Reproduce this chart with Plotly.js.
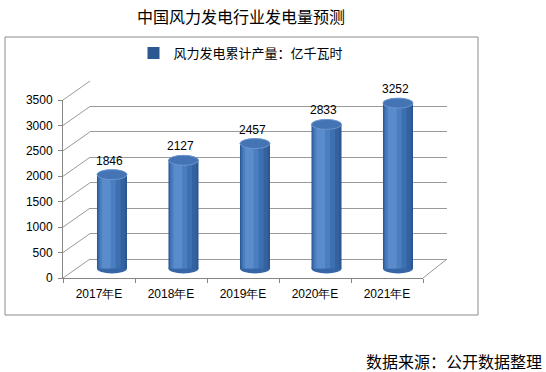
<!DOCTYPE html>
<html>
<head>
<meta charset="utf-8">
<script src="https://cdn.plot.ly/plotly-3.0.1.min.js"></script>
<style>html,body{margin:0;padding:0;background:#fff;}#chart{width:546px;height:372px;}</style>
</head>
<body>
<div id="chart"></div>
<script>
// ---- data ----
const categories = ['2017年E', '2018年E', '2019年E', '2020年E', '2021年E'];
const values = [1846, 2127, 2457, 2833, 3252];
const yTicks = [0, 500, 1000, 1500, 2000, 2500, 3000, 3500];
const seriesName = '风力发电累计产量：亿千瓦时';
const titleText = '中国风力发电行业发电量预测';
const sourceText = '数据来源：公开数据整理';

// ---- geometry helpers (pixel -> paper) ----
const W = 546, H = 372;
const px = x => x / W;
const py = y => 1 - y / H;
const k = 178 / 3500;          // pixels per unit
const cjk = '"Noto Sans CJK SC", "Liberation Sans", sans-serif';
const num = '"Liberation Sans", Arial, sans-serif';
const gridCol = '#9a9a9a';
const axCol = '#868686';

// ---- traces ----
const ghost = (xa, ya) => ({
  type: 'scatter', x: categories, y: values, xaxis: xa, yaxis: ya,
  mode: 'markers', marker: {opacity: 0}, hoverinfo: 'skip', showlegend: false
});

const layers = [
  {w: 0.42, off: -0.21, c: '#2C5891'},
  {w: 0.38, off: -0.20, c: '#3462A0'},
  {w: 0.31, off: -0.19, c: '#3D70B1'},
  {w: 0.22, off: -0.17, c: '#4A7EC0'},
  {w: 0.12, off: -0.14, c: '#5A8CCB'}
];
const barTraces = layers.map((L, i) => ({
  type: 'bar', x: categories, y: values, xaxis: 'x3', yaxis: 'y3',
  width: L.w, offset: L.off, marker: {color: L.c, line: {width: 0}},
  name: seriesName, showlegend: i === 0, hoverinfo: 'skip'
}));

const data = [ghost('x', 'y'), ghost('x2', 'y2')].concat(barTraces);

// ---- shapes ----
const shapes = [];
shapes.push({type: 'rect', xref: 'paper', yref: 'paper', x0: px(5), x1: px(478), y0: py(315), y1: py(37),
  line: {color: '#8c8c8c', width: 1}, layer: 'below'});
yTicks.forEach(t => {
  shapes.push({type: 'line', xref: 'paper', yref: 'paper', x0: px(63), y0: py(278 - t * k), x1: px(90), y1: py(259 - t * k),
    line: {color: gridCol, width: 1}, layer: 'below'});
});
shapes.push({type: 'line', xref: 'paper', yref: 'paper', x0: px(423), y0: py(278), x1: px(447), y1: py(259),
  line: {color: gridCol, width: 1}, layer: 'below'});
const h = 5 / k;
values.forEach((v, i) => {
  shapes.push({type: 'circle', xref: 'x3', yref: 'y3', x0: i - 0.21, x1: i + 0.21, y0: -h, y1: h,
    fillcolor: '#3766A6', line: {width: 0}, layer: 'below'});
  shapes.push({type: 'circle', xref: 'x3', yref: 'y3', x0: i - 0.21, x1: i + 0.21, y0: v - h, y1: v + h,
    fillcolor: '#4574B4', line: {color: '#6A96CF', width: 1}, layer: 'above'});
});

// ---- annotations ----
const annotations = values.map((v, i) => ({
  xref: 'x3', yref: 'y3', x: i, y: v, text: String(v), showarrow: false,
  yanchor: 'middle', yshift: 9 + h * k, xshift: -3, font: {family: num, size: 12, color: '#000'}
}));
annotations.push({xref: 'paper', yref: 'paper', x: px(544), y: py(361), xanchor: 'right', yanchor: 'middle',
  text: sourceText, showarrow: false, font: {family: cjk, size: 16, color: '#000'}});

const layout = {
  width: W, height: H, margin: {l: 0, r: 0, t: 0, b: 0},
  paper_bgcolor: '#fff', plot_bgcolor: 'rgba(0,0,0,0)',
  title: {text: titleText, x: px(241), xanchor: 'center', y: py(17), yanchor: 'middle',
    font: {family: cjk, size: 16, color: '#000'}},
  showlegend: true,
  legend: {x: px(241), xanchor: 'center', y: py(53), yanchor: 'middle', orientation: 'h',
    bgcolor: 'rgba(0,0,0,0)', font: {family: cjk, size: 13, color: '#000'}},
  barmode: 'overlay',
  hovermode: false,
  // back wall
  xaxis: {domain: [px(90), px(447)], anchor: 'y', type: 'category', range: [-0.5, 4.5],
    showgrid: false, zeroline: false, showline: false, showticklabels: false, ticks: ''},
  yaxis: {domain: [py(259), py(81)], anchor: 'x', range: [0, 3500], tickvals: yTicks,
    showgrid: true, gridcolor: gridCol, gridwidth: 1, zeroline: true, zerolinecolor: gridCol, zerolinewidth: 1,
    showline: false, showticklabels: false, ticks: ''},
  // front axes
  xaxis2: {domain: [px(63), px(423)], anchor: 'y2', type: 'category', range: [-0.5, 4.5],
    showgrid: false, zeroline: false, showline: true, linecolor: axCol, linewidth: 1,
    ticks: 'outside', tickson: 'boundaries', ticklen: 4, tickcolor: axCol, ticklabelstandoff: 5,
    tickfont: {family: num, size: 12, color: '#000'}},
  yaxis2: {domain: [py(278), py(100)], anchor: 'x2', range: [0, 3500], tickvals: yTicks,
    showgrid: false, zeroline: false, showline: true, linecolor: axCol, linewidth: 1,
    ticks: 'outside', ticklen: 4, tickcolor: axCol, ticklabelstandoff: 3,
    tickfont: {family: num, size: 12, color: '#000'}},
  // bars (middle depth)
  xaxis3: {domain: [px(76.25), px(433.75)], anchor: 'y3', type: 'category', range: [-0.5, 4.5],
    showgrid: false, zeroline: false, showline: false, showticklabels: false, ticks: ''},
  yaxis3: {domain: [py(268.5 + 200 * k), py(268.5 - 3500 * k)], anchor: 'x3', range: [-200, 3500],
    showgrid: false, zeroline: false, showline: false, showticklabels: false, ticks: ''},
  shapes: shapes,
  annotations: annotations
};

Plotly.newPlot('chart', data, layout, {displayModeBar: false, staticPlot: true});
</script>
</body>
</html>
